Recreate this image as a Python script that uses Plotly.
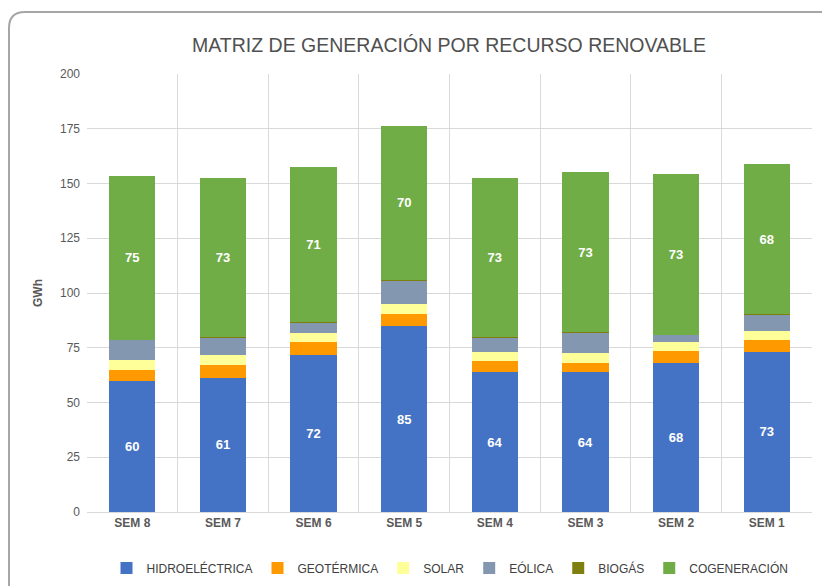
import plotly.graph_objects as go

categories = ["SEM 8", "SEM 7", "SEM 6", "SEM 5", "SEM 4", "SEM 3", "SEM 2", "SEM 1"]
hidroelectrica = [59.6, 61.3, 71.6, 84.9, 63.8, 63.8, 68.2, 73.2]
geotermica = [5.3, 5.7, 5.8, 5.5, 5.1, 4.2, 5.5, 5.5]
solar = [4.6, 4.7, 4.3, 4.7, 4.0, 4.5, 3.8, 3.9]
eolica = [9.2, 8.1, 4.8, 10.8, 6.6, 9.3, 3.5, 7.7]
biogas = [0.05, 0.05, 0.05, 0.05, 0.3, 0.3, 0.05, 0.05]
cogeneracion = [74.7, 72.7, 71.0, 70.3, 72.6, 73.2, 73.1, 68.4]

series = [
    ("HIDROELÉCTRICA", hidroelectrica, "#4472C4", True),
    ("GEOTÉRMICA", geotermica, "#FF9900", False),
    ("SOLAR", solar, "#FFFF99", False),
    ("EÓLICA", eolica, "#8497B0", False),
    ("BIOGÁS", biogas, "#7F7F0F", False),
    ("COGENERACIÓN", cogeneracion, "#70AD47", True),
]

FONT = "Liberation Sans, Arial, sans-serif"

fig = go.Figure()
for name, vals, color, show in series:
    fig.add_trace(go.Bar(
        name=name, x=categories, y=vals,
        marker=dict(color=color, line=dict(width=0)),
        text=[f"{v:.0f}" for v in vals] if show else None,
        texttemplate="%{text}" if show else None,
        textposition="inside" if show else "none",
        insidetextanchor="middle",
        textfont=dict(color="white", size=13, family=FONT, weight="bold"),
        hoverinfo="name+y",
    ))

# page body has an 8px margin, so the figure is drawn 8px in from the window edge
OFF = 8
W, H = 830 - OFF, 586 - OFF
L, T = 87 - OFF, 74 - OFF
R = W - (812 - OFF)
B = H - (512 - OFF)
pw, ph = W - L - R, H - T - B

def px(x):
    return (x - OFF - L) / pw

def py(y):
    return (H - B - (y - OFF)) / ph

rx, ry = 16 / pw, 16 / ph
x0, y0 = px(9), py(12)
x1, y1 = px(840), py(600)
path = (f"M {x0},{y1} L {x0},{y0 - ry} Q {x0},{y0} {x0 + rx},{y0} "
        f"L {x1},{y0}")

fig.update_layout(
    width=W, height=H,
    barmode="stack",
    bargap=0.49,
    paper_bgcolor="white",
    plot_bgcolor="white",
    margin=dict(l=L, r=R, t=T, b=B, autoexpand=False),
    font=dict(family=FONT, color="#595959", size=12),
    title=dict(
        text="MATRIZ DE GENERACIÓN POR RECURSO RENOVABLE",
        x=(449 - OFF) / W, xanchor="center", y=1 - (45 - OFF) / H, yanchor="middle",
        font=dict(size=19.5, color="#505050", family=FONT),
    ),
    xaxis=dict(
        tickson="boundaries", automargin=False,
        showgrid=True, gridcolor="#D9D9D9", gridwidth=1,
        showline=True, linecolor="#D9D9D9", linewidth=1,
        ticks="", tickfont=dict(size=12, color="#595959", family=FONT, weight="bold"),
    ),
    yaxis=dict(
        range=[0, 200], dtick=25, automargin=False,
        showgrid=True, gridcolor="#D9D9D9", gridwidth=1,
        zeroline=False, showline=False,
        ticks="", ticklabelstandoff=6,
        tickfont=dict(size=12, color="#595959", family=FONT),
        title=dict(text="<b>GWh</b>", font=dict(size=12, color="#595959", family=FONT), standoff=14),
    ),
    legend=dict(
        orientation="h", xref="container", yref="container",
        x=(450 - OFF) / W, xanchor="center",
        y=1 - (568 - OFF) / H, yanchor="middle",
        font=dict(size=12, color="#404040", family=FONT),
        traceorder="normal", itemwidth=30,
    ),
    shapes=[dict(type="path", path=path, xref="paper", yref="paper",
                 line=dict(color="#A6A6A6", width=2), layer="above")],
)

fig.write_html("out.html")
